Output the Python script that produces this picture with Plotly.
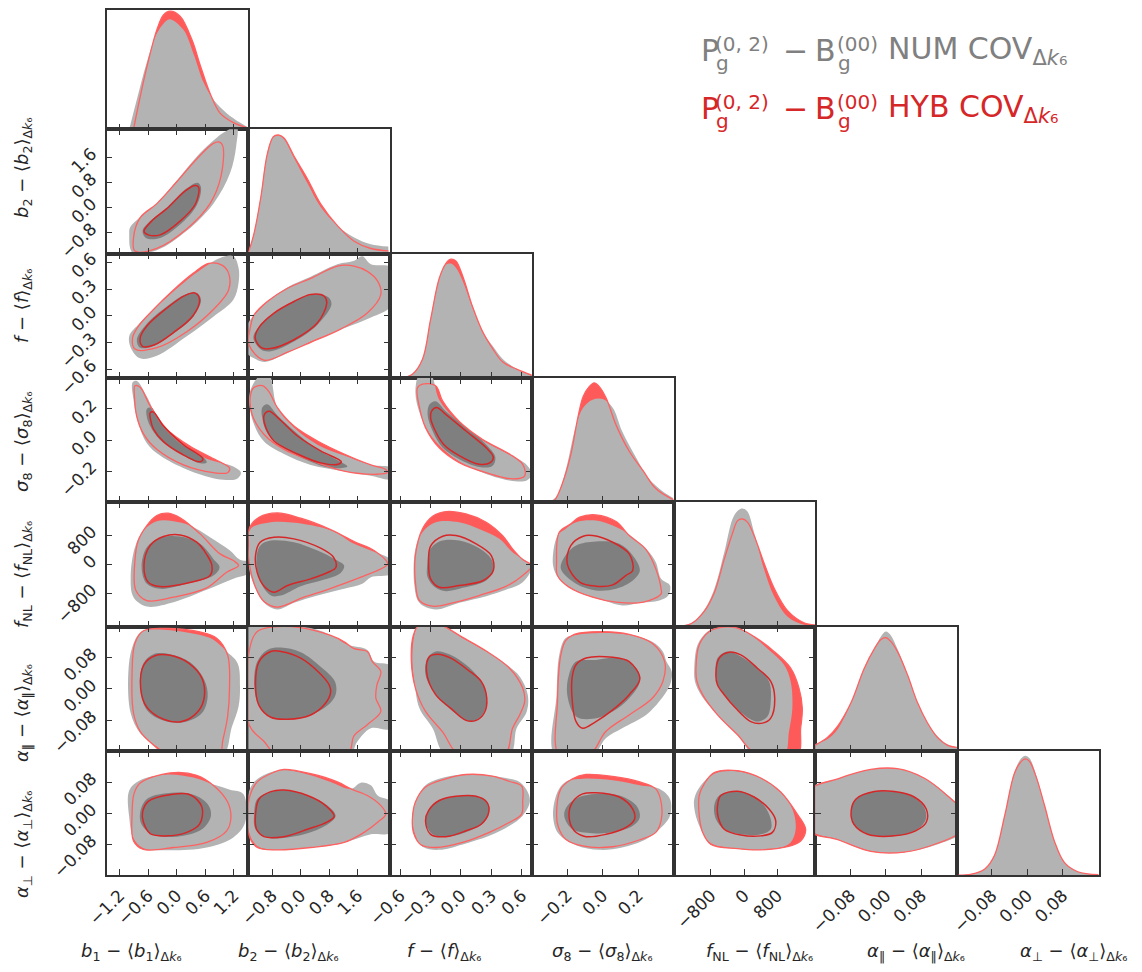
import plotly.graph_objects as go

W, H = 1142, 972

# ---------------- axes: ranges and ticks ----------------
b1_range = [-1.474, 1.507]
b2_range = [-1.47, 2.51]
f_range = [-0.70, 0.70]
s8_range = [-0.40, 0.40]
fnl_range = [-1700, 1710]
apar_range = [-0.159, 0.160]
aper_range = [-0.159, 0.161]

b1_ticks = [-1.2, -0.6, 0.0, 0.6, 1.2]
b1_ticktext = ["−1.2", "−0.6", "0.0", "0.6", "1.2"]
b2_ticks = [-0.8, 0.0, 0.8, 1.6]
b2_ticktext = ["−0.8", "0.0", "0.8", "1.6"]
f_ticks = [-0.6, -0.3, 0.0, 0.3, 0.6]
f_ticktext = ["−0.6", "−0.3", "0.0", "0.3", "0.6"]
s8_ticks = [-0.2, 0.0, 0.2]
s8_ticktext = ["−0.2", "0.0", "0.2"]
fnl_ticks = [-800, 0, 800]
fnl_ticktext = ["−800", "0", "800"]
apar_ticks = [-0.08, 0.0, 0.08]
apar_ticktext = ["−0.08", "0.00", "0.08"]
aper_ticks = [-0.08, 0.0, 0.08]
aper_ticktext = ["−0.08", "0.00", "0.08"]

label_b1 = "<i>b</i><sub>1</sub> − ⟨<i>b</i><sub>1</sub>⟩<sub>Δ<i>k</i>₆</sub>"
label_b2 = "<i>b</i><sub>2</sub> − ⟨<i>b</i><sub>2</sub>⟩<sub>Δ<i>k</i>₆</sub>"
label_f = "<i>f</i> − ⟨<i>f</i>⟩<sub>Δ<i>k</i>₆</sub>"
label_s8 = "<i>σ</i><sub>8</sub> − ⟨<i>σ</i><sub>8</sub>⟩<sub>Δ<i>k</i>₆</sub>"
label_fnl = "<i>f</i><sub>NL</sub> − ⟨<i>f</i><sub>NL</sub>⟩<sub>Δ<i>k</i>₆</sub>"
label_apar = "<i>α</i><sub>‖</sub> − ⟨<i>α</i><sub>‖</sub>⟩<sub>Δ<i>k</i>₆</sub>"
label_aper = "<i>α</i><sub>⊥</sub> − ⟨<i>α</i><sub>⊥</sub>⟩<sub>Δ<i>k</i>₆</sub>"

# ---------------- 1D marginals (x, density) ----------------
d_b1_num_x = [-1.0, -0.84, -0.63, -0.42, -0.28, -0.15, 0.14, 0.35, 0.56, 0.77, 1.05, 1.33, 1.51]
d_b1_num_p = [0.0, 0.24, 0.54, 0.77, 0.85, 0.885, 0.80, 0.61, 0.38, 0.24, 0.13, 0.054, 0.013]
d_b1_hyb_x = [-0.91, -0.77, -0.63, -0.42, -0.28, -0.14, 0.07, 0.32, 0.49, 0.70, 0.91, 1.19, 1.51]
d_b1_hyb_p = [0.0, 0.26, 0.50, 0.80, 0.92, 0.95, 0.91, 0.72, 0.52, 0.29, 0.13, 0.054, 0.01]

d_b2_num_x = [-1.48, -1.31, -1.12, -0.94, -0.77, -0.63, -0.47, -0.19, 0.19, 0.56, 1.03, 1.50, 1.97, 2.46]
d_b2_num_p = [0.0, 0.17, 0.47, 0.81, 0.94, 0.954, 0.92, 0.77, 0.565, 0.375, 0.225, 0.13, 0.076, 0.057]
d_b2_hyb_x = [-1.48, -1.31, -1.12, -0.94, -0.77, -0.63, -0.47, -0.19, 0.19, 0.56, 1.03, 1.50, 1.97, 2.46]
d_b2_hyb_p = [0.0, 0.165, 0.455, 0.80, 0.94, 0.954, 0.93, 0.785, 0.60, 0.40, 0.225, 0.10, 0.041, 0.022]

d_f_num_x = [-0.60, -0.48, -0.38, -0.30, -0.215, -0.15, -0.10, -0.05, 0.017, 0.116, 0.215, 0.31, 0.41, 0.55, 0.705]
d_f_num_p = [0.0, 0.033, 0.155, 0.48, 0.80, 0.91, 0.92, 0.886, 0.78, 0.56, 0.37, 0.26, 0.155, 0.073, 0.014]
d_f_hyb_x = [-0.60, -0.48, -0.38, -0.30, -0.215, -0.15, -0.10, -0.05, 0.017, 0.116, 0.215, 0.31, 0.41, 0.55, 0.705]
d_f_hyb_p = [0.0, 0.03, 0.15, 0.47, 0.80, 0.92, 0.955, 0.94, 0.82, 0.57, 0.37, 0.24, 0.13, 0.07, 0.02]

d_s8_num_x = [-0.31, -0.26, -0.21, -0.15, -0.11, -0.057, 0.0, 0.057, 0.11, 0.19, 0.26, 0.34, 0.40]
d_s8_num_p = [0.0, 0.046, 0.25, 0.62, 0.76, 0.825, 0.83, 0.76, 0.57, 0.355, 0.19, 0.086, 0.032]
d_s8_hyb_x = [-0.30, -0.27, -0.23, -0.18, -0.14, -0.11, -0.076, -0.047, -0.019, 0.019, 0.076, 0.15, 0.23, 0.30, 0.40]
d_s8_hyb_p = [0.0, 0.019, 0.14, 0.38, 0.68, 0.85, 0.93, 0.96, 0.93, 0.84, 0.62, 0.41, 0.25, 0.11, 0.019]

d_fnl_num_x = [-1680, -1280, -960, -720, -480, -280, -160, -40, 80, 240, 480, 720, 1040, 1440, 1704]
d_fnl_num_p = [0.005, 0.027, 0.135, 0.30, 0.595, 0.865, 0.93, 0.95, 0.925, 0.757, 0.46, 0.243, 0.081, 0.014, 0.005]
d_fnl_hyb_x = [-1680, -1280, -960, -720, -480, -280, -160, -40, 80, 240, 480, 720, 1040, 1440, 1704]
d_fnl_hyb_p = [0.0, 0.022, 0.122, 0.27, 0.54, 0.75, 0.85, 0.865, 0.84, 0.73, 0.51, 0.31, 0.13, 0.03, 0.013]

d_apar_num_x = [-0.159, -0.131, -0.108, -0.078, -0.049, -0.026, -0.011, 0.0, 0.011, 0.026, 0.049, 0.071, 0.093, 0.116, 0.138, 0.160]
d_apar_num_p = [0.054, 0.095, 0.176, 0.39, 0.66, 0.82, 0.92, 0.96, 0.93, 0.82, 0.61, 0.39, 0.23, 0.12, 0.054, 0.027]
d_apar_hyb_x = [-0.159, -0.131, -0.108, -0.078, -0.049, -0.026, -0.011, 0.0, 0.011, 0.026, 0.049, 0.071, 0.093, 0.116, 0.138, 0.160]
d_apar_hyb_p = [0.046, 0.11, 0.20, 0.39, 0.66, 0.82, 0.895, 0.91, 0.88, 0.80, 0.61, 0.39, 0.23, 0.108, 0.046, 0.027]

d_aper_num_x = [-0.156, -0.126, -0.096, -0.074, -0.051, -0.029, -0.0135, -0.0045, 0.005, 0.020, 0.039, 0.062, 0.084, 0.114, 0.161]
d_aper_num_p = [0.0, 0.008, 0.049, 0.157, 0.48, 0.83, 0.94, 0.96, 0.94, 0.805, 0.56, 0.265, 0.103, 0.027, 0.003]
d_aper_hyb_x = [-0.156, -0.126, -0.096, -0.074, -0.051, -0.029, -0.0135, -0.0045, 0.005, 0.020, 0.039, 0.062, 0.084, 0.114, 0.161]
d_aper_hyb_p = [0.0, 0.008, 0.05, 0.16, 0.48, 0.82, 0.915, 0.935, 0.915, 0.79, 0.56, 0.265, 0.10, 0.027, 0.003]

# ---------------- 2D contours (x-param, y-param), 95% and 68% ----------------
c_b1_b2_num95 = [(-1.0,-0.84),(-0.93,-1.44),(-0.42,-1.36),(0.21,-0.74),(0.77,0.13),(1.12,1.10),(1.25,1.97),(1.26,2.62),(1.05,2.46),(0.84,2.24),(0.49,1.75),(0.07,1.0),(-0.42,0.13),(-0.77,-0.30),(-0.98,-0.63)]
c_b1_b2_hyb95 = [(-0.91,-0.97),(-0.88,-1.39),(-0.42,-1.30),(0.21,-0.68),(0.70,0.13),(0.93,1.0),(0.97,1.97),(0.90,2.10),(0.77,2.06),(0.42,1.56),(0.0,0.83),(-0.42,0.13),(-0.77,-0.32)]
c_b1_b2_num68 = [(-0.72,-0.74),(-0.65,-0.97),(-0.35,-0.97),(0.07,-0.54),(0.42,0.08),(0.51,0.65),(0.44,0.80),(0.21,0.62),(-0.21,0.0),(-0.56,-0.43)]
c_b1_b2_hyb68 = [(-0.69,-0.76),(-0.60,-0.87),(-0.35,-0.87),(0.07,-0.43),(0.39,0.11),(0.46,0.65),(0.39,0.71),(0.18,0.54),(-0.21,-0.03),(-0.53,-0.43)]

c_b1_f_num95 = [(-1.0,-0.23),(-0.95,-0.38),(-0.77,-0.48),(-0.42,-0.45),(0.21,-0.23),(0.77,-0.01),(1.19,0.18),(1.30,0.37),(1.30,0.54),(1.19,0.67),(0.91,0.65),(0.56,0.54),(0.14,0.37),(-0.35,0.14),(-0.77,-0.08)]
c_b1_f_hyb95 = [(-0.93,-0.25),(-0.88,-0.375),(-0.42,-0.36),(0.21,-0.18),(0.77,0.07),(1.09,0.29),(1.09,0.48),(0.95,0.57),(0.67,0.59),(0.35,0.48),(-0.07,0.29),(-0.49,0.07),(-0.81,-0.12)]
c_b1_f_num68 = [(-0.84,-0.27),(-0.77,-0.36),(-0.49,-0.34),(-0.07,-0.20),(0.35,-0.01),(0.51,0.18),(0.42,0.255),(0.18,0.24),(-0.21,0.105),(-0.63,-0.09)]
c_b1_f_hyb68 = [(-0.77,-0.25),(-0.72,-0.345),(-0.48,-0.33),(-0.07,-0.19),(0.34,0.0),(0.48,0.18),(0.39,0.255),(0.18,0.23),(-0.21,0.086),(-0.62,-0.11)]

c_b1_s8_num95 = [(-0.93,0.37),(-0.84,0.38),(-0.63,0.28),(-0.35,0.11),(0.07,-0.02),(0.63,-0.12),(1.19,-0.17),(1.35,-0.21),(1.26,-0.25),(0.84,-0.25),(0.21,-0.19),(-0.35,-0.10),(-0.63,-0.02),(-0.81,0.11),(-0.91,0.26)]
c_b1_s8_hyb95 = [(-0.88,0.35),(-0.77,0.34),(-0.56,0.22),(-0.21,0.07),(0.28,-0.04),(0.84,-0.13),(1.11,-0.18),(1.07,-0.21),(0.77,-0.21),(0.14,-0.16),(-0.42,-0.06),(-0.70,0.04),(-0.84,0.15),(-0.89,0.28)]
c_b1_s8_num68 = [(-0.63,0.20),(-0.53,0.21),(-0.35,0.11),(0.07,-0.02),(0.56,-0.11),(0.63,-0.145),(0.49,-0.15),(0.07,-0.085),(-0.35,0.0),(-0.56,0.09),(-0.63,0.15)]
c_b1_s8_hyb68 = [(-0.56,0.175),(-0.49,0.18),(-0.28,0.09),(0.14,-0.03),(0.55,-0.12),(0.49,-0.14),(0.105,-0.09),(-0.28,-0.01),(-0.49,0.07),(-0.55,0.13)]

c_b1_fnl_num95 = [(-0.97,-347),(-0.91,-896),(-0.63,-1152),(-0.07,-1033),(0.63,-695),(1.19,-393),(1.55,-210),(1.55,64),(1.33,128),(1.12,384),(0.70,749),(0.28,1069),(-0.07,1188),(-0.42,1188),(-0.70,932),(-0.88,475)]
c_b1_fnl_hyb95 = [(-0.88,110),(-0.86,-713),(-0.63,-987),(-0.07,-896),(0.63,-640),(1.05,-210),(1.30,-27),(1.19,110),(0.91,292),(0.49,841),(0.07,1280),(-0.18,1408),(-0.42,1344),(-0.63,1069),(-0.81,658)]
c_b1_fnl_num68 = [(-0.74,-73),(-0.63,-530),(-0.35,-667),(0.21,-530),(0.77,-302),(0.90,-73),(0.77,155),(0.49,567),(0.07,768),(-0.35,731),(-0.63,475)]
c_b1_fnl_hyb68 = [(-0.69,-27),(-0.60,-484),(-0.35,-603),(0.21,-512),(0.70,-302),(0.74,-27),(0.63,274),(0.42,612),(0.07,813),(-0.28,768),(-0.56,521)]

c_b1_apar_num95 = [(-1.02,0.040),(-0.93,0.109),(-0.74,0.147),(-0.21,0.151),(0.49,0.138),(0.77,0.126),(1.05,0.096),(1.28,0.066),(1.33,0.006),(1.30,-0.045),(1.16,-0.097),(0.95,-0.175),(-0.07,-0.175),(-0.42,-0.148),(-0.77,-0.114),(-0.97,-0.062)]
c_b1_apar_hyb95 = [(-0.94,0.040),(-0.88,0.117),(-0.70,0.149),(-0.21,0.155),(0.49,0.146),(0.84,0.130),(1.07,0.087),(1.11,0.006),(1.07,-0.071),(0.97,-0.131),(0.88,-0.175),(-0.14,-0.175),(-0.49,-0.144),(-0.77,-0.109),(-0.91,-0.062)]
c_b1_apar_num68 = [(-0.77,0.006),(-0.70,0.066),(-0.49,0.089),(-0.14,0.089),(0.28,0.068),(0.58,0.023),(0.65,-0.020),(0.53,-0.062),(0.14,-0.086),(-0.28,-0.081),(-0.63,-0.054)]
c_b1_apar_hyb68 = [(-0.76,0.002),(-0.69,0.062),(-0.46,0.085),(-0.14,0.086),(0.25,0.066),(0.53,0.027),(0.58,-0.020),(0.46,-0.056),(0.105,-0.084),(-0.28,-0.078),(-0.63,-0.047)]

c_b1_aper_num95 = [(-1.0,0.059),(-0.77,0.085),(-0.21,0.100),(0.35,0.092),(0.77,0.074),(1.12,0.061),(1.40,0.050),(1.44,-0.023),(1.19,-0.062),(0.63,-0.088),(-0.21,-0.095),(-0.70,-0.090),(-0.91,-0.064),(-1.0,-0.010)]
c_b1_aper_hyb95 = [(-0.90,0.050),(-0.77,0.078),(-0.14,0.104),(0.42,0.098),(0.81,0.068),(1.07,0.029),(1.14,-0.010),(1.05,-0.045),(0.63,-0.075),(-0.07,-0.088),(-0.70,-0.093),(-0.91,-0.071),(-0.94,-0.002)]
c_b1_aper_num68 = [(-0.77,0.003),(-0.63,0.037),(-0.21,0.052),(0.35,0.048),(0.65,0.024),(0.72,-0.006),(0.53,-0.041),(0.0,-0.060),(-0.49,-0.055),(-0.74,-0.029)]
c_b1_aper_hyb68 = [(-0.72,0.003),(-0.60,0.031),(-0.14,0.048),(0.28,0.048),(0.53,0.016),(0.48,-0.028),(0.21,-0.049),(-0.21,-0.058),(-0.56,-0.052),(-0.70,-0.023)]

c_b2_f_num95 = [(-1.55,-0.40),(-1.31,-0.48),(-1.03,-0.52),(-0.47,-0.44),(0.28,-0.29),(1.22,-0.14),(1.97,-0.02),(2.55,0.12),(2.55,0.54),(1.97,0.58),(1.73,0.67),(1.50,0.62),(1.03,0.58),(0.28,0.44),(-0.37,0.32),(-1.03,0.12),(-1.55,-0.14)]
c_b2_f_hyb95 = [(-1.41,-0.12),(-1.45,-0.33),(-1.03,-0.50),(-0.37,-0.41),(0.28,-0.30),(1.12,-0.15),(1.87,0.03),(2.25,0.24),(2.16,0.39),(1.87,0.50),(1.50,0.56),(1.03,0.56),(0.28,0.42),(-0.37,0.31),(-0.94,0.16),(-1.31,0.01)]
c_b2_f_num68 = [(-1.33,-0.25),(-1.12,-0.38),(-0.84,-0.40),(-0.19,-0.29),(0.47,-0.10),(0.86,0.12),(0.80,0.20),(0.56,0.24),(0.0,0.20),(-0.66,0.05),(-1.17,-0.12)]
c_b2_f_hyb68 = [(-1.28,-0.25),(-1.11,-0.36),(-0.84,-0.37),(-0.19,-0.27),(0.47,-0.08),(0.73,0.14),(0.66,0.22),(0.28,0.24),(-0.19,0.16),(-0.75,0.03),(-1.17,-0.13)]

c_b2_s8_num95 = [(-1.12,0.42),(-0.89,0.42),(-0.66,0.21),(-0.19,0.08),(0.47,-0.03),(1.22,-0.10),(1.97,-0.16),(2.55,-0.18),(2.55,-0.25),(1.97,-0.23),(1.22,-0.20),(0.28,-0.16),(-0.47,-0.09),(-1.03,-0.01),(-1.31,0.10),(-1.45,0.25),(-1.39,0.335)]
c_b2_s8_hyb95 = [(-1.33,0.335),(-1.08,0.35),(-0.89,0.31),(-0.66,0.21),(-0.19,0.09),(0.47,-0.006),(1.22,-0.09),(1.97,-0.16),(2.39,-0.19),(2.42,-0.21),(2.16,-0.22),(1.22,-0.20),(0.28,-0.13),(-0.47,-0.06),(-1.03,0.036),(-1.36,0.16),(-1.42,0.27)]
c_b2_s8_num68 = [(-1.08,0.21),(-0.94,0.23),(-0.66,0.16),(-0.19,0.06),(0.47,-0.06),(1.03,-0.13),(1.31,-0.17),(0.84,-0.18),(0.28,-0.14),(-0.37,-0.066),(-0.94,0.047),(-1.08,0.14)]
c_b2_s8_hyb68 = [(-1.03,0.16),(-0.89,0.186),(-0.56,0.126),(-0.09,0.026),(0.56,-0.07),(1.14,-0.14),(1.05,-0.156),(0.56,-0.147),(-0.09,-0.09),(-0.75,-0.006),(-0.98,0.08)]

c_f_s8_num95 = [(-0.41,0.42),(-0.30,0.42),(-0.215,0.26),(-0.05,0.13),(0.18,0.01),(0.45,-0.085),(0.65,-0.16),(0.70,-0.22),(0.65,-0.26),(0.48,-0.26),(0.18,-0.20),(-0.08,-0.11),(-0.28,0.015),(-0.40,0.16),(-0.45,0.31)]
c_f_s8_hyb95 = [(-0.43,0.335),(-0.38,0.36),(-0.25,0.35),(-0.18,0.25),(-0.017,0.12),(0.215,0.004),(0.48,-0.09),(0.61,-0.156),(0.63,-0.23),(0.51,-0.25),(0.25,-0.21),(-0.017,-0.145),(-0.215,-0.05),(-0.35,0.08),(-0.41,0.21)]
c_f_s8_num68 = [(-0.31,0.23),(-0.25,0.25),(-0.15,0.186),(0.05,0.08),(0.25,-0.03),(0.34,-0.11),(0.31,-0.167),(0.18,-0.173),(-0.017,-0.124),(-0.18,-0.05),(-0.28,0.058),(-0.33,0.165)]
c_f_s8_hyb68 = [(-0.29,0.186),(-0.24,0.21),(-0.15,0.165),(0.05,0.058),(0.25,-0.05),(0.32,-0.11),(0.29,-0.145),(0.18,-0.156),(-0.017,-0.10),(-0.17,-0.028),(-0.26,0.068),(-0.30,0.143)]

c_b2_fnl_num95 = [(-1.41,978),(-0.84,1161),(0.09,1115),(0.94,905),(1.41,612),(1.97,384),(2.55,110),(2.55,-256),(1.97,-347),(1.73,-530),(1.22,-667),(0.47,-850),(-0.19,-1051),(-0.66,-1234),(-1.03,-1051),(-1.27,-667),(-1.45,-119),(-1.45,521)]
c_b2_fnl_hyb95 = [(-1.45,978),(-1.17,1298),(-0.66,1417),(0.0,1270),(0.84,960),(1.50,631),(2.06,384),(2.44,18),(2.34,-73),(1.69,-347),(0.75,-686),(0.09,-896),(-0.66,-1170),(-1.03,-1015),(-1.27,-622),(-1.45,64)]
c_b2_fnl_num68 = [(-1.22,338),(-1.12,539),(-0.84,658),(-0.19,612),(0.47,384),(0.94,155),(1.22,-27),(1.12,-229),(0.66,-411),(0.0,-594),(-0.56,-850),(-0.84,-850),(-1.12,-503),(-1.24,-27)]
c_b2_fnl_hyb68 = [(-1.27,247),(-1.14,612),(-0.75,749),(-0.19,704),(0.56,448),(0.92,201),(0.99,-73),(0.82,-192),(0.28,-393),(-0.37,-576),(-0.75,-759),(-1.03,-594),(-1.22,-229)]

c_f_fnl_num95 = [(-0.45,430),(-0.38,887),(-0.25,1161),(-0.017,1161),(0.18,978),(0.38,704),(0.51,338),(0.66,64),(0.70,-73),(0.61,-484),(0.45,-686),(0.25,-868),(-0.017,-1051),(-0.25,-1234),(-0.41,-1051),(-0.46,-576)]
c_f_fnl_hyb95 = [(-0.45,247),(-0.38,978),(-0.28,1325),(-0.15,1453),(0.05,1389),(0.25,1161),(0.41,795),(0.51,430),(0.61,137),(0.70,-27),(0.61,-302),(0.45,-594),(0.18,-850),(-0.08,-1051),(-0.28,-1143),(-0.41,-987),(-0.45,-484)]
c_f_fnl_num68 = [(-0.33,64),(-0.31,384),(-0.215,631),(-0.017,658),(0.18,448),(0.30,155),(0.32,-165),(0.25,-439),(0.017,-640),(-0.15,-731),(-0.25,-640),(-0.33,-347)]
c_f_fnl_hyb68 = [(-0.32,64),(-0.30,503),(-0.18,777),(-0.05,795),(0.15,567),(0.30,247),(0.32,-165),(0.22,-439),(-0.017,-576),(-0.215,-622),(-0.30,-393)]

c_s8_fnl_num95 = [(-0.28,-27),(-0.255,795),(-0.21,978),(-0.15,1161),(-0.038,1206),(0.057,1069),(0.13,887),(0.245,430),(0.30,64),(0.33,-393),(0.38,-576),(0.37,-850),(0.32,-987),(0.21,-1051),(0.11,-1124),(-0.019,-941),(-0.15,-713),(-0.245,-393)]
c_s8_fnl_hyb95 = [(-0.26,64),(-0.245,887),(-0.18,1115),(-0.13,1298),(-0.038,1362),(0.076,1179),(0.15,795),(0.245,411),(0.30,-119),(0.33,-667),(0.33,-804),(0.23,-1033),(0.076,-1033),(-0.057,-896),(-0.19,-622),(-0.255,-302)]
c_s8_fnl_num68 = [(-0.236,-119),(-0.21,247),(-0.15,521),(-0.038,631),(0.094,567),(0.17,247),(0.21,-165),(0.17,-439),(0.076,-667),(-0.038,-713),(-0.15,-530)]
c_s8_fnl_hyb68 = [(-0.20,18),(-0.18,521),(-0.11,777),(-0.057,795),(0.057,612),(0.15,292),(0.17,-165),(0.13,-302),(0.057,-558),(-0.038,-594),(-0.13,-484)]

c_b2_apar_num95 = [(-1.6,0.17),(-0.66,0.162),(0.28,0.156),(0.94,0.134),(1.31,0.113),(1.87,0.100),(2.06,0.070),(2.55,0.057),(2.55,-0.101),(1.97,-0.101),(1.59,-0.135),(1.36,-0.17),(-1.6,-0.17)]
c_b2_apar_hyb95 = [(-1.45,-0.092),(-1.41,0.113),(-1.22,0.147),(-0.75,0.159),(0.0,0.157),(0.84,0.137),(1.22,0.121),(1.50,0.103),(1.87,0.096),(2.01,0.070),(2.25,0.044),(2.14,0.010),(2.11,-0.024),(2.25,-0.058),(1.87,-0.092),(1.50,-0.120),(1.31,-0.17),(-0.66,-0.17),(-1.03,-0.135)]
c_b2_apar_num68 = [(-1.31,0.010),(-1.22,0.070),(-0.94,0.100),(-0.56,0.106),(0.0,0.094),(0.56,0.057),(0.96,0.019),(0.98,-0.015),(0.75,-0.043),(0.28,-0.067),(-0.37,-0.079),(-0.84,-0.074),(-1.17,-0.043)]
c_b2_apar_hyb68 = [(-1.27,0.010),(-1.17,0.070),(-0.84,0.096),(-0.56,0.096),(0.0,0.079),(0.49,0.044),(0.80,0.010),(0.84,-0.009),(0.66,-0.041),(0.28,-0.067),(-0.37,-0.078),(-0.84,-0.073),(-1.17,-0.043)]

c_f_apar_num95 = [(-0.48,0.070),(-0.46,0.138),(-0.41,0.17),(-0.215,0.165),(0.017,0.130),(0.25,0.096),(0.45,0.062),(0.58,0.032),(0.66,-0.015),(0.65,-0.058),(0.55,-0.101),(0.48,-0.17),(-0.15,-0.17),(-0.28,-0.101),(-0.41,-0.050),(-0.46,0.019)]
c_f_apar_hyb95 = [(-0.49,0.070),(-0.47,0.138),(-0.41,0.165),(-0.215,0.165),(0.017,0.132),(0.25,0.097),(0.48,0.053),(0.61,0.002),(0.63,-0.032),(0.58,-0.067),(0.51,-0.101),(0.43,-0.17),(-0.017,-0.17),(-0.18,-0.111),(-0.35,-0.058),(-0.45,0.002)]
c_f_apar_num68 = [(-0.35,0.036),(-0.33,0.079),(-0.25,0.096),(-0.116,0.089),(0.05,0.062),(0.18,0.027),(0.25,-0.015),(0.23,-0.058),(0.15,-0.081),(0.05,-0.081),(-0.116,-0.050),(-0.25,-0.015)]
c_f_apar_hyb68 = [(-0.34,0.044),(-0.31,0.083),(-0.23,0.089),(-0.10,0.079),(0.066,0.049),(0.20,0.019),(0.255,-0.024),(0.23,-0.062),(0.15,-0.081),(0.05,-0.081),(-0.10,-0.050),(-0.25,-0.015)]

c_s8_apar_num95 = [(-0.27,-0.17),(-0.26,-0.015),(-0.245,0.087),(-0.21,0.130),(-0.15,0.138),(0.0,0.143),(0.15,0.138),(0.28,0.121),(0.34,0.096),(0.36,0.070),(0.39,0.044),(0.38,0.010),(0.32,-0.032),(0.245,-0.067),(0.11,-0.101),(0.019,-0.126),(-0.057,-0.17)]
c_s8_apar_hyb95 = [(-0.245,-0.17),(-0.255,-0.032),(-0.236,0.087),(-0.21,0.123),(-0.16,0.140),(0.0,0.147),(0.15,0.140),(0.28,0.117),(0.35,0.070),(0.34,0.019),(0.28,-0.024),(0.15,-0.067),(0.019,-0.109),(-0.076,-0.17)]
c_s8_apar_num68 = [(-0.20,-0.015),(-0.19,0.036),(-0.15,0.070),(-0.038,0.074),(0.094,0.079),(0.19,0.053),(0.21,0.019),(0.15,-0.024),(0.057,-0.058),(-0.057,-0.077),(-0.15,-0.071)]
c_s8_apar_hyb68 = [(-0.174,-0.015),(-0.17,0.036),(-0.15,0.062),(-0.094,0.079),(0.057,0.081),(0.15,0.070),(0.21,0.026),(0.15,-0.015),(0.057,-0.054),(-0.038,-0.084),(-0.113,-0.101),(-0.15,-0.084)]

c_fnl_apar_num95 = [(-1200,0.053),(-1120,0.113),(-880,0.147),(-640,0.157),(-160,0.156),(160,0.138),(640,0.096),(960,0.062),(1120,0.019),(1160,-0.050),(1080,-0.109),(960,-0.17),(240,-0.17),(-160,-0.118),(-640,-0.067),(-1040,-0.015),(-1184,0.019)]
c_fnl_apar_hyb95 = [(-1160,0.053),(-1080,0.113),(-840,0.147),(-640,0.156),(-160,0.156),(240,0.134),(720,0.096),(1120,0.053),(1320,0.002),(1400,-0.050),(1360,-0.101),(1280,-0.17),(320,-0.17),(-160,-0.118),(-640,-0.067),(-1000,-0.015),(-1136,0.019)]
c_fnl_apar_num68 = [(-680,0.036),(-640,0.079),(-400,0.096),(-80,0.083),(320,0.053),(600,0.019),(640,-0.032),(560,-0.071),(320,-0.084),(0,-0.067),(-400,-0.024),(-600,0.002)]
c_fnl_apar_hyb68 = [(-680,0.036),(-600,0.079),(-360,0.094),(-80,0.087),(320,0.053),(640,0.019),(736,-0.024),(640,-0.075),(440,-0.088),(160,-0.084),(-200,-0.050),(-480,-0.015),(-640,0.010)]

c_b2_aper_num95 = [(-1.48,0.046),(-1.31,0.081),(-0.84,0.106),(-0.37,0.111),(0.28,0.098),(0.84,0.081),(1.41,0.063),(1.69,0.079),(1.97,0.072),(2.16,0.046),(2.55,0.029),(2.55,-0.049),(1.97,-0.054),(1.22,-0.075),(0.28,-0.088),(-0.66,-0.094),(-1.22,-0.084),(-1.45,-0.049)]
c_b2_aper_hyb95 = [(-1.45,0.037),(-1.22,0.081),(-0.75,0.106),(-0.47,0.113),(0.28,0.102),(1.03,0.081),(1.41,0.063),(1.87,0.046),(2.25,0.020),(2.39,-0.002),(2.16,-0.023),(1.78,-0.049),(1.22,-0.075),(0.28,-0.088),(-0.66,-0.094),(-1.22,-0.088),(-1.45,-0.058)]
c_b2_aper_num68 = [(-1.31,-0.002),(-1.22,0.037),(-0.84,0.055),(-0.37,0.059),(0.28,0.042),(0.75,0.020),(0.98,-0.006),(0.84,-0.023),(0.28,-0.049),(-0.37,-0.062),(-0.94,-0.062),(-1.27,-0.041)]
c_b2_aper_hyb68 = [(-1.27,-0.002),(-1.17,0.037),(-0.84,0.056),(-0.47,0.060),(0.19,0.046),(0.70,0.020),(0.94,-0.008),(0.75,-0.022),(0.19,-0.041),(-0.47,-0.060),(-1.03,-0.060),(-1.24,-0.041)]

c_f_aper_num95 = [(-0.48,-0.006),(-0.45,0.029),(-0.35,0.072),(-0.215,0.089),(0.017,0.100),(0.25,0.098),(0.48,0.089),(0.58,0.081),(0.66,0.055),(0.68,0.029),(0.61,-0.006),(0.48,-0.032),(0.28,-0.058),(0.017,-0.080),(-0.215,-0.094),(-0.38,-0.086),(-0.46,-0.049)]
c_f_aper_hyb95 = [(-0.48,-0.015),(-0.45,0.029),(-0.35,0.068),(-0.15,0.089),(0.05,0.100),(0.31,0.096),(0.48,0.082),(0.60,0.070),(0.61,0.029),(0.60,-0.002),(0.48,-0.023),(0.28,-0.049),(0.017,-0.075),(-0.25,-0.088),(-0.40,-0.080),(-0.47,-0.049)]
c_f_aper_num68 = [(-0.35,-0.023),(-0.33,0.003),(-0.25,0.029),(-0.083,0.042),(0.116,0.046),(0.25,0.033),(0.28,0.007),(0.23,-0.023),(0.083,-0.045),(-0.116,-0.060),(-0.28,-0.054)]
c_f_aper_hyb68 = [(-0.35,-0.019),(-0.32,0.007),(-0.215,0.033),(-0.05,0.044),(0.15,0.044),(0.255,0.029),(0.275,0.003),(0.20,-0.028),(0.05,-0.045),(-0.15,-0.060),(-0.30,-0.054)]

c_s8_aper_num95 = [(-0.28,-0.006),(-0.255,0.055),(-0.21,0.081),(-0.113,0.089),(0.057,0.085),(0.21,0.072),(0.32,0.063),(0.38,0.037),(0.38,-0.006),(0.32,-0.041),(0.245,-0.067),(0.11,-0.088),(-0.019,-0.094),(-0.15,-0.082),(-0.25,-0.052)]
c_s8_aper_hyb95 = [(-0.26,-0.006),(-0.236,0.063),(-0.17,0.089),(-0.094,0.100),(0.057,0.095),(0.21,0.081),(0.30,0.063),(0.33,0.029),(0.33,-0.019),(0.30,-0.049),(0.21,-0.068),(0.057,-0.086),(-0.113,-0.084),(-0.21,-0.066),(-0.25,-0.035)]
c_s8_aper_num68 = [(-0.217,-0.006),(-0.198,0.020),(-0.132,0.042),(-0.038,0.050),(0.094,0.046),(0.19,0.020),(0.21,-0.010),(0.17,-0.032),(0.057,-0.049),(-0.057,-0.051),(-0.17,-0.041)]
c_s8_aper_hyb68 = [(-0.19,-0.006),(-0.17,0.029),(-0.113,0.050),(-0.038,0.053),(0.094,0.042),(0.17,0.011),(0.18,-0.015),(0.132,-0.036),(0.019,-0.054),(-0.094,-0.060),(-0.16,-0.045)]

c_fnl_aper_num95 = [(-1200,0.037),(-1040,0.072),(-720,0.102),(-160,0.108),(320,0.094),(800,0.063),(1160,0.011),(1240,-0.041),(1120,-0.075),(880,-0.088),(400,-0.094),(-160,-0.091),(-800,-0.077),(-1040,-0.041),(-1184,0.003)]
c_fnl_aper_hyb95 = [(-1080,0.046),(-960,0.076),(-720,0.105),(-160,0.110),(400,0.091),(880,0.055),(1280,-0.002),(1480,-0.041),(1360,-0.071),(1040,-0.086),(400,-0.094),(-160,-0.091),(-800,-0.080),(-1000,-0.049),(-1080,-0.006)]
c_fnl_aper_num68 = [(-720,0.020),(-600,0.046),(-240,0.056),(160,0.048),(480,0.020),(640,-0.015),(640,-0.041),(400,-0.054),(-80,-0.054),(-480,-0.041),(-680,-0.015)]
c_fnl_aper_hyb68 = [(-640,0.020),(-560,0.046),(-160,0.057),(240,0.042),(600,0.011),(760,-0.019),(680,-0.049),(400,-0.058),(-80,-0.056),(-480,-0.041),(-624,-0.010)]

c_apar_aper_num95 = [(-0.17,0.063),(-0.108,0.089),(-0.034,0.113),(0.026,0.115),(0.086,0.091),(0.138,0.048),(0.17,0.011),(0.17,-0.049),(0.116,-0.080),(0.041,-0.100),(-0.034,-0.097),(-0.108,-0.067),(-0.17,-0.041)]
c_apar_aper_hyb95 = [(-0.17,0.059),(-0.108,0.089),(-0.034,0.113),(0.026,0.115),(0.086,0.091),(0.138,0.046),(0.17,0.007),(0.17,-0.045),(0.116,-0.077),(0.041,-0.100),(-0.034,-0.098),(-0.108,-0.068),(-0.17,-0.045)]
c_apar_aper_num68 = [(-0.078,0.003),(-0.071,0.033),(-0.034,0.055),(0.011,0.056),(0.056,0.046),(0.086,0.016),(0.090,-0.015),(0.071,-0.041),(0.026,-0.058),(-0.034,-0.056),(-0.071,-0.032)]
c_apar_aper_hyb68 = [(-0.078,0.007),(-0.067,0.037),(-0.026,0.056),(0.019,0.056),(0.064,0.042),(0.091,0.011),(0.091,-0.023),(0.067,-0.045),(0.019,-0.058),(-0.041,-0.054),(-0.072,-0.028)]

# ---------------- assembling ----------------
ranges = [b1_range, b2_range, f_range, s8_range, fnl_range, apar_range, aper_range]
ticks = [b1_ticks, b2_ticks, f_ticks, s8_ticks, fnl_ticks, apar_ticks, aper_ticks]
ticktexts = [b1_ticktext, b2_ticktext, f_ticktext, s8_ticktext, fnl_ticktext, apar_ticktext, aper_ticktext]
labels = [label_b1, label_b2, label_f, label_s8, label_fnl, label_apar, label_aper]
marg = [
    (d_b1_num_x, d_b1_num_p, d_b1_hyb_x, d_b1_hyb_p),
    (d_b2_num_x, d_b2_num_p, d_b2_hyb_x, d_b2_hyb_p),
    (d_f_num_x, d_f_num_p, d_f_hyb_x, d_f_hyb_p),
    (d_s8_num_x, d_s8_num_p, d_s8_hyb_x, d_s8_hyb_p),
    (d_fnl_num_x, d_fnl_num_p, d_fnl_hyb_x, d_fnl_hyb_p),
    (d_apar_num_x, d_apar_num_p, d_apar_hyb_x, d_apar_hyb_p),
    (d_aper_num_x, d_aper_num_p, d_aper_hyb_x, d_aper_hyb_p),
]
names = ["b1", "b2", "f", "s8", "fnl", "apar", "aper"]
G = globals()
contours = {}
for i in range(7):
    for j in range(i):
        key = "c_%s_%s_" % (names[j], names[i])
        contours[(i, j)] = (G[key + "num95"], G[key + "num68"], G[key + "hyb95"], G[key + "hyb68"])

# layout geometry (page pixels; the page body has an 8px margin)
OFF = 8.0
def px(x):
    return (x - OFF) / W
def py(y):
    return 1 - (y - OFF) / H

LEFT, CW, TOP, RH = 106.7, 141.7, 5.0, 124.3
def xdom(j):
    return [px(LEFT + j * CW), px(LEFT + (j + 1) * CW)]
def row_top(i):
    return max(TOP + i * RH, OFF + 1.5)
def ydom(i):
    return [py(TOP + (i + 1) * RH), min(1.0, py(row_top(i)))]

GRAY_L = "#b3b3b3"
GRAY_D = "#7f7f7f"
RED_F = "#ff5a5a"
RED_L = "#ff6161"
RED_D = "#d62728"
FONT = "DejaVu Sans"
AXC = "#333333"
TXT = "#262626"

def closed(pts):
    xs = [p[0] for p in pts] + [pts[0][0]]
    ys = [p[1] for p in pts] + [pts[0][1]]
    return xs, ys

fig = go.Figure()
layout = dict(template="none", width=W, height=H, margin=dict(l=0, r=0, t=0, b=0, pad=0),
              paper_bgcolor="white", plot_bgcolor="white", showlegend=False,
              font=dict(family=FONT, color=TXT))

k = 0
for i in range(7):
    for j in range(i + 1):
        k += 1
        xa = "x%d" % k if k > 1 else "x"
        ya = "y%d" % k if k > 1 else "y"
        xkey = "xaxis%d" % k if k > 1 else "xaxis"
        ykey = "yaxis%d" % k if k > 1 else "yaxis"
        diag = (i == j)
        layout[xkey] = dict(domain=xdom(j), anchor=ya, range=ranges[j], tickmode="array",
                            tickvals=ticks[j], ticktext=ticktexts[j], showticklabels=(i == 6),
                            tickangle=-45, ticks="inside", ticklen=6, tickwidth=1.2, tickcolor=AXC,
                            showline=True, linecolor=AXC, linewidth=1.5, automargin=False,
                            ticklabelstandoff=2,
                            mirror=(True if diag else "allticks"), showgrid=False, zeroline=False,
                            tickfont=dict(family=FONT, size=17, color=TXT))
        if diag:
            # visible part of the panel (top row is cut by the page margin)
            frac = (TOP + (i + 1) * RH - row_top(i)) / RH
            layout[ykey] = dict(domain=ydom(i), anchor=xa, range=[0, frac], showticklabels=False,
                                ticks="", showline=True, linecolor=AXC, linewidth=1.5, mirror=True,
                                showgrid=False, zeroline=False, automargin=False)
            nx, npd, hx, hp = marg[i]
            fig.add_trace(go.Scatter(x=hx, y=hp, xaxis=xa, yaxis=ya, mode="lines", fill="tozeroy",
                                     fillcolor=RED_F, line=dict(width=0, shape="spline", color=RED_F),
                                     hoverinfo="skip"))
            fig.add_trace(go.Scatter(x=nx, y=npd, xaxis=xa, yaxis=ya, mode="lines", fill="tozeroy",
                                     fillcolor=GRAY_L, line=dict(width=0, shape="spline", color=GRAY_L),
                                     hoverinfo="skip"))
            fig.add_trace(go.Scatter(x=hx, y=hp, xaxis=xa, yaxis=ya, mode="lines",
                                     line=dict(width=1.3, shape="spline", color=RED_L),
                                     hoverinfo="skip"))
        else:
            layout[ykey] = dict(domain=ydom(i), anchor=xa, range=ranges[i], tickmode="array",
                                tickvals=ticks[i], ticktext=ticktexts[i], showticklabels=(j == 0),
                                tickangle=-45, ticks="inside", ticklen=6, tickwidth=1.2, tickcolor=AXC,
                                showline=True, linecolor=AXC, linewidth=1.5, mirror="allticks",
                                showgrid=False, zeroline=False, automargin=False,
                                ticklabelstandoff=10, ticklabelshift=-6,
                                tickfont=dict(family=FONT, size=17, color=TXT))
            n95, n68, h95, h68 = contours[(i, j)]
            for pts, col in ((h95, RED_F), (n95, GRAY_L), (n68, GRAY_D)):
                xs, ys = closed(pts)
                fig.add_trace(go.Scatter(x=xs, y=ys, xaxis=xa, yaxis=ya, mode="lines", fill="toself",
                                         fillcolor=col, line=dict(width=0, shape="spline", color=col),
                                         hoverinfo="skip"))
            for pts, col, wdt in ((h95, RED_L, 1.3), (h68, RED_D, 1.5)):
                xs, ys = closed(pts)
                fig.add_trace(go.Scatter(x=xs, y=ys, xaxis=xa, yaxis=ya, mode="lines",
                                         line=dict(width=wdt, shape="spline", color=col),
                                         hoverinfo="skip"))

# axis titles
xlab_px = [131, 288, 444, 602, 759, 916, 1073]
ylab_py = [168, 306, 442, 575, 713, 845]
ann = []
for j in range(7):
    ann.append(dict(x=px(xlab_px[j]), y=py(952), xref="paper", yref="paper", text=labels[j],
                    showarrow=False, xanchor="center", yanchor="middle",
                    font=dict(family=FONT, size=18, color=TXT)))
for i in range(1, 7):
    ann.append(dict(x=px(23), y=py(ylab_py[i - 1]), xref="paper", yref="paper", text=labels[i],
                    showarrow=False, xanchor="center", yanchor="middle", textangle=-90,
                    font=dict(family=FONT, size=18, color=TXT)))

# legend text
legend_rows = [("NUM", "#808080", 0.0), ("HYB", RED_D, 57.6)]
for word, col, dy in legend_rows:
    pieces = [
        ("P", 700, 50.5, 30),
        ("(0, 2)", 714, 44, 20),
        ("g", 714.5, 63, 20),
        ("−", 782, 50.5, 30),
        ("B", 814, 50.5, 30),
        ("(00)", 836, 44, 20),
        ("g", 836.5, 63, 20),
        (word + " COV<sub>Δ<i>k</i>₆</sub>", 887, 50.5, 30),
    ]
    for txt, xx, yy, sz in pieces:
        ann.append(dict(x=px(xx), y=py(yy + dy), xref="paper", yref="paper", text=txt,
                        showarrow=False, xanchor="left", yanchor="middle", borderpad=0,
                        font=dict(family=FONT, size=sz, color=col)))

layout["annotations"] = ann
fig.update_layout(**layout)
fig.write_html("out.html")
